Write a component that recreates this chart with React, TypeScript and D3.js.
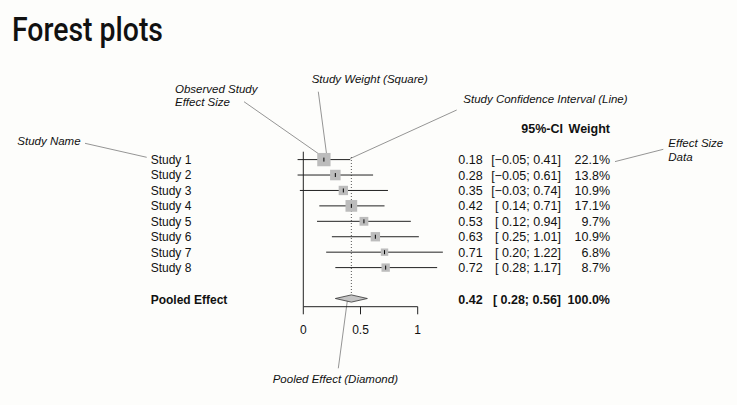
import React from "react";
import * as d3 from "d3";

// Study-level meta-analysis results
const studies = ["Study 1", "Study 2", "Study 3", "Study 4", "Study 5", "Study 6", "Study 7", "Study 8"];
const estimates = [0.18, 0.28, 0.35, 0.42, 0.53, 0.63, 0.71, 0.72];
const lower = [-0.05, -0.05, -0.03, 0.14, 0.12, 0.25, 0.2, 0.28];
const upper = [0.41, 0.61, 0.74, 0.71, 0.94, 1.01, 1.22, 1.17];
const weights = [22.1, 13.8, 10.9, 17.1, 9.7, 10.9, 6.8, 8.7];

// Pooled effect
const pooledLabel = "Pooled Effect";
const pooled = { est: 0.42, lo: 0.28, hi: 0.56, weight: 100.0 };

const xTicks = [0, 0.5, 1];
const xTickLabels = ["0", "0.5", "1"];

const W = 737;
const H = 405;
const FONT = "'Liberation Sans', Arial, Helvetica, sans-serif";

const fmt2 = (v: number) => (v < 0 ? "\u2212" : "") + Math.abs(v).toFixed(2);
const fmtCI = (lo: number, hi: number) =>
  `[${lo < 0 ? "" : " "}${fmt2(lo)}; ${fmt2(hi)}]`;

export default function App() {
  const x = d3.scaleLinear().domain([0, 1]).range([303.3, 417.7]);
  const y = d3
    .scalePoint<number>()
    .domain(d3.range(studies.length))
    .range([159.6, 267.6]);
  const pooledY = 298.5;
  const axisY = 306.7;
  const side = d3.scaleSqrt().domain([0, 22.1]).range([0, 13.3]);

  const lineColor = "#222";
  const leader = "#7a7a7a";

  const diamond = [
    [x(pooled.lo), pooledY],
    [x(pooled.est), pooledY - 3.6],
    [x(pooled.hi), pooledY],
    [x(pooled.est), pooledY + 3.6],
  ];

  const estCol = 458.3;
  const ciCol = 561;
  const wCol = 610;

  const annot = { fontFamily: FONT, fontStyle: "italic", fontSize: 11.5, fill: "#111" } as const;
  const txt = { fontFamily: FONT, fontSize: 12, fill: "#111", whiteSpace: "pre" } as const;
  const col = { ...txt, fontSize: 12.5 } as const;

  return (
    <div style={{ position: "absolute", left: 0, top: 0 }}>
      <svg width={W} height={H} style={{ display: "block", background: "#fdfdfb" }}>
        <text
          x={12}
          y={40.5}
          fontFamily="Roboto, 'DejaVu Sans', sans-serif"
          fontSize={33}
          fontWeight={500}
          fill="#111"
          textLength={151}
          lengthAdjust="spacingAndGlyphs"
        >
          Forest plots
        </text>

        {/* annotation labels */}
        <text x={175} y={93.3} {...annot}>Observed Study</text>
        <text x={175} y={106} {...annot}>Effect Size</text>
        <text x={311.7} y={83.3} {...annot}>Study Weight (Square)</text>
        <text x={463.3} y={103.3} {...annot}>Study Confidence Interval (Line)</text>
        <text x={17.3} y={145} {...annot}>Study Name</text>
        <text x={668.3} y={146.7} {...annot}>Effect Size</text>
        <text x={668.3} y={160.7} {...annot}>Data</text>
        <text x={272.7} y={382.7} {...annot}>Pooled Effect (Diamond)</text>

        {/* leader lines */}
        <g stroke={leader} strokeWidth={0.8} fill="none">
          <line x1={85} y1={143.3} x2={146.7} y2={y(0)! - 2.3} />
          <line x1={244} y1={101.7} x2={x(estimates[0]) + 3} y2={y(0)!} />
          <line x1={318.3} y1={91.7} x2={x(estimates[0]) + 3} y2={y(0)! - 3} />
          <line x1={456.7} y1={110} x2={x(upper[0])} y2={y(0)! - 1} />
          <line x1={663.3} y1={149.3} x2={wCol + 5} y2={y(0)! + 2} />
          <line x1={338.3} y1={368.3} x2={x(pooled.est) - 4} y2={pooledY + 2} />
        </g>

        {/* no-effect line */}
        <line x1={x(0)} x2={x(0)} y1={151.7} y2={axisY} stroke={lineColor} strokeWidth={1} />
        {/* pooled estimate reference line */}
        <line
          x1={x(pooled.est)}
          x2={x(pooled.est)}
          y1={157}
          y2={pooledY - 4}
          stroke="#444"
          strokeWidth={0.9}
          strokeDasharray="1,2"
        />

        {/* study rows */}
        {studies.map((s, i) => {
          const yy = y(i)!;
          const sz = side(weights[i]);
          return (
            <g key={s}>
              <line x1={x(lower[i])} x2={x(upper[i])} y1={yy} y2={yy} stroke={lineColor} strokeWidth={1} />
              <rect x={x(estimates[i]) - sz / 2} y={yy - sz / 2} width={sz} height={sz} fill="#bcbcbc" />
              <line x1={x(estimates[i])} x2={x(estimates[i])} y1={yy - 2} y2={yy + 2} stroke="#000" strokeWidth={1} />
              <text x={150.7} y={yy + 4.4} {...txt}>{s}</text>
              <text x={estCol} y={yy + 4.5} {...col}>{estimates[i].toFixed(2)}</text>
              <text x={ciCol} y={yy + 4.5} textAnchor="end" {...col}>{fmtCI(lower[i], upper[i])}</text>
              <text x={wCol} y={yy + 4.5} textAnchor="end" {...col}>{weights[i].toFixed(1) + "%"}</text>
            </g>
          );
        })}

        {/* header */}
        <text x={ciCol + 2} y={132.5} textAnchor="end" {...col} fontWeight="bold">95%-CI</text>
        <text x={wCol} y={132.5} textAnchor="end" {...col} fontWeight="bold">Weight</text>

        {/* pooled row */}
        <polygon points={diamond.map((p) => p.join(",")).join(" ")} fill="#c4c4c4" stroke="#333" strokeWidth={0.8} />
        <text x={150.7} y={304.3} {...txt} fontWeight="bold">{pooledLabel}</text>
        <text x={estCol} y={304.3} {...col} fontWeight="bold">{pooled.est.toFixed(2)}</text>
        <text x={ciCol} y={304.3} textAnchor="end" {...col} fontWeight="bold">{fmtCI(pooled.lo, pooled.hi)}</text>
        <text x={wCol} y={304.3} textAnchor="end" {...col} fontWeight="bold">{pooled.weight.toFixed(1) + "%"}</text>

        {/* x axis */}
        <line x1={x(0)} x2={x(1)} y1={axisY} y2={axisY} stroke={lineColor} strokeWidth={1} />
        {xTicks.map((t, i) => (
          <g key={t}>
            <line x1={x(t)} x2={x(t)} y1={axisY} y2={axisY + 7.6} stroke={lineColor} strokeWidth={1} />
            <text x={x(t)} y={334} textAnchor="middle" {...txt}>{xTickLabels[i]}</text>
          </g>
        ))}
      </svg>
    </div>
  );
}
